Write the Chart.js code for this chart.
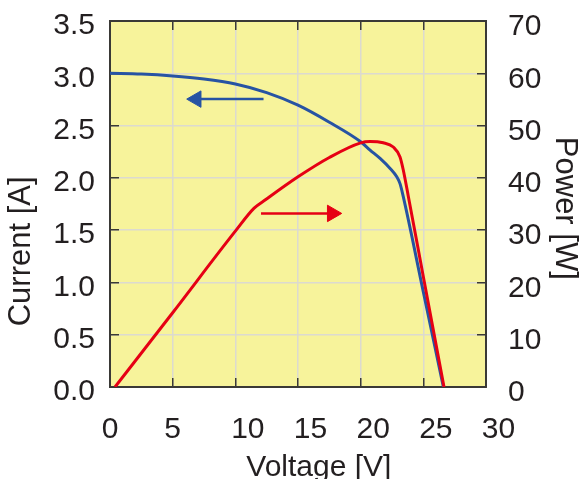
<!DOCTYPE html>
<html><head><meta charset="utf-8">
<script src="https://cdn.jsdelivr.net/npm/chart.js@4.4.1/dist/chart.umd.min.js"></script>
<style>html,body{margin:0;padding:0;background:#fff}canvas{display:block}</style>
</head><body>
<canvas id="c" width="587" height="479"></canvas>
<script>
// ---- data ----
const voltageI = [0, 2.5, 5, 7.5, 10, 12.5, 15, 17.5, 20, 20.75, 21.55, 22.35, 22.88, 23.14, 23.4, 25, 26.6];
const current  = [3.0, 2.993, 2.975, 2.945, 2.897, 2.815, 2.695, 2.532, 2.345, 2.266, 2.186, 2.09, 2.01, 1.945, 1.82, 0.91, 0];
const voltageP = [0.4, 5, 10, 11.5, 12.4, 15, 17.5, 20, 20.75, 21.8, 22.6, 23.14, 23.4, 23.8, 25, 26.65];
const power    = [0, 14.2, 29.8, 34.2, 35.8, 40.2, 43.9, 46.7, 46.95, 46.7, 45.9, 44.0, 41.5, 36.5, 21.1, 0];
const xTickLabels = ['0', '5', '10', '15', '20', '25', '30'];
const currentTickLabels = ['0.0', '0.5', '1.0', '1.5', '2.0', '2.5', '3.0', '3.5'];
const powerTickLabels = ['0', '10', '20', '30', '40', '50', '60', '70'];
const currentArrowV = [12.25, 6.88];
const currentArrowI = [2.753, 2.753];
const powerArrowV = [12.05, 17.73];
const powerArrowP = [33.2, 33.2];

const TXT = '#231f20', AX = '#3a3936', GRID = '#dcdad0';
const BLUE = '#2753a3', RED = '#e60014', BG = '#f7f39b';
Chart.defaults.font.family = '"Liberation Sans", Arial, Helvetica, sans-serif';
Chart.defaults.color = TXT;

const pts = (xs, ys) => xs.map((v, i) => ({x: v, y: ys[i]}));
const tickGrid = (onArea) => ({display: true, drawOnChartArea: onArea, color: GRID, lineWidth: 1.5,
  drawTicks: true, tickLength: -9, tickColor: AX, tickWidth: 1.5});
const border = {display: true, color: AX, width: 2};
const noPad = s => { s.paddingTop = 0; s.paddingBottom = 0; s.paddingLeft = 0; s.paddingRight = 0; };

const bgPlugin = {
  id: 'bg',
  beforeDraw(chart) {
    const {ctx, chartArea: a} = chart;
    ctx.save();
    ctx.fillStyle = '#fff';
    ctx.fillRect(0, 0, chart.width, chart.height);
    ctx.fillStyle = BG;
    ctx.fillRect(a.left, a.top, a.right - a.left, a.bottom - a.top);
    ctx.restore();
  }
};

new Chart(document.getElementById('c'), {
  type: 'line',
  data: {
    datasets: [
      {data: pts(voltageP, power), xAxisID: 'x', yAxisID: 'y1', borderColor: RED, borderWidth: 3,
        pointRadius: 0, cubicInterpolationMode: 'monotone', fill: false},
      {data: pts(voltageI, current), xAxisID: 'x', yAxisID: 'y', borderColor: BLUE, borderWidth: 3,
        pointRadius: 0, cubicInterpolationMode: 'monotone', fill: false},
      {data: pts(currentArrowV, currentArrowI), xAxisID: 'x', yAxisID: 'y', borderColor: BLUE, borderWidth: 2.5,
        pointRadius: [0, 9.5], pointStyle: 'triangle', pointRotation: -90,
        pointBackgroundColor: BLUE, pointBorderColor: BLUE, pointBorderWidth: 1, fill: false},
      {data: pts(powerArrowV, powerArrowP), xAxisID: 'x', yAxisID: 'y1', borderColor: RED, borderWidth: 2.5,
        pointRadius: [0, 9.5], pointStyle: 'triangle', pointRotation: 90,
        pointBackgroundColor: RED, pointBorderColor: RED, pointBorderWidth: 1, fill: false}
    ]
  },
  options: {
    responsive: false,
    devicePixelRatio: 1,
    animation: false,
    layout: {padding: 0},
    plugins: {legend: {display: false}, tooltip: {enabled: false}},
    scales: {
      x: {
        type: 'linear', position: 'bottom', min: 0, max: 30,
        ticks: {stepSize: 5, autoSkip: false, maxRotation: 0, padding: 34, color: TXT,
          font: {size: 30, lineHeight: 1.2},
          callback: (v, i) => (xTickLabels[i].length > 1 ? '   ' : '') + xTickLabels[i]},
        grid: tickGrid(true), border,
        title: {display: true, text: '     Voltage [V]', color: TXT, font: {size: 30, lineHeight: 1},
          padding: {top: 0, bottom: -4}},
        afterFit: s => { s.height = 92; noPad(s); }
      },
      x2: {
        type: 'linear', position: 'top', min: 0, max: 30,
        ticks: {display: false, stepSize: 5},
        grid: tickGrid(false), border,
        afterFit: s => { s.height = 21; noPad(s); }
      },
      y: {
        type: 'linear', position: 'left', min: 0, max: 3.5,
        ticks: {stepSize: 0.5, padding: 24, labelOffset: 5, color: TXT, font: {size: 30},
          callback: (v, i) => currentTickLabels[i]},
        grid: tickGrid(true), border,
        title: {display: true, text: 'Current [A]           ', color: TXT, font: {size: 31},
          padding: {top: 3, bottom: 0}},
        afterFit: s => { s.width = 110; noPad(s); }
      },
      y1: {
        type: 'linear', position: 'right', min: 0, max: 70,
        ticks: {stepSize: 10, padding: 31, labelOffset: 6, color: TXT, font: {size: 30},
          callback: (v, i) => powerTickLabels[i]},
        grid: tickGrid(false), border,
        title: {display: true, text: ' Power [W]', color: TXT, font: {size: 31},
          padding: {top: 4, bottom: 0}},
        afterFit: s => { s.width = 101; noPad(s); }
      }
    }
  },
  plugins: [bgPlugin]
});
</script>
</body></html>
